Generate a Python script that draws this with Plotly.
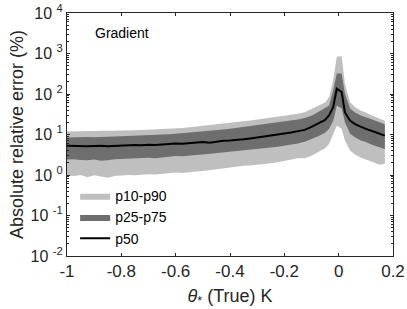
import plotly.graph_objects as go

theta = [-1.000, -0.975, -0.950, -0.925, -0.900, -0.875, -0.850, -0.825, -0.800, -0.775,
         -0.750, -0.725, -0.700, -0.675, -0.650, -0.625, -0.600, -0.575, -0.550, -0.525,
         -0.500, -0.475, -0.450, -0.425, -0.400, -0.375, -0.350, -0.325, -0.300, -0.275,
         -0.250, -0.225, -0.200, -0.175, -0.150, -0.125, -0.100, -0.075, -0.050, -0.035,
         -0.020, -0.007, 0.011, 0.023, 0.042, 0.060, 0.080, 0.100, 0.125, 0.150, 0.170]

p90 = [11.8, 12.0, 12.1, 11.9, 12.2, 12.3, 12.1, 12.4, 12.6, 12.5,
       12.8, 12.9, 13.1, 13.0, 13.4, 13.6, 13.9, 14.4, 15.0, 15.6,
       16.3, 17.0, 17.7, 18.5, 19.3, 20.3, 21.3, 22.3, 23.4, 24.6,
       25.8, 27.2, 29.0, 30.5, 32.5, 35.5, 42.0, 51.0, 62.0, 84.0,
       220, 830, 850, 180, 63, 48, 39, 35, 29, 24.5, 22]

p75 = [8.4, 8.6, 8.5, 8.7, 8.6, 8.8, 8.7, 8.9, 9.0, 9.1,
       9.2, 9.4, 9.5, 9.6, 9.9, 10.1, 10.4, 10.7, 11.0, 11.4,
       11.8, 12.2, 12.7, 13.2, 13.8, 14.5, 15.2, 16.0, 16.8, 17.7,
       18.6, 19.6, 20.7, 22.0, 23.5, 25.5, 29.0, 36.0, 44.0, 52.0,
       123, 320, 320, 102, 44, 35, 30, 27, 23, 20, 18]

p50 = [5.3, 5.2, 5.3, 5.1, 5.2, 5.3, 5.1, 5.2, 5.4, 5.3,
       5.5, 5.4, 5.6, 5.5, 5.7, 5.8, 6.0, 5.9, 6.1, 6.2,
       6.5, 6.3, 6.7, 7.0, 7.1, 7.5, 7.6, 8.0, 8.4, 8.8,
       9.3, 9.8, 10.6, 11.2, 12.0, 13.0, 15.5, 19.0, 23.0, 30.0,
       48, 135, 112, 35, 22, 18, 15.5, 13.8, 12.0, 10.5, 9.4]

p25 = [2.4, 2.45, 2.35, 2.3, 2.4, 2.25, 2.3, 2.45, 2.5, 2.55,
       2.5, 2.6, 2.65, 2.6, 2.7, 2.8, 2.95, 2.9, 3.0, 3.1,
       3.2, 3.3, 3.35, 3.5, 3.7, 3.9, 4.05, 4.25, 4.4, 4.6,
       4.8, 5.0, 5.2, 5.6, 6.0, 6.6, 7.6, 9.0, 11.0, 13.8,
       22, 52, 44, 20, 10.5, 8.5, 7.2, 6.5, 5.5, 4.8, 4.4]

p10 = [0.97, 0.95, 1.0, 0.88, 0.98, 0.93, 0.85, 0.95, 0.97, 1.0,
       0.98, 1.02, 1.05, 1.03, 1.08, 1.1, 1.15, 1.12, 1.18, 1.22,
       1.25, 1.3, 1.35, 1.45, 1.55, 1.6, 1.68, 1.72, 1.8, 1.85,
       1.95, 2.05, 2.2, 2.4, 2.6, 2.6, 3.0, 3.8, 4.6, 5.9,
       10.5, 16.6, 13.8, 7.1, 4.0, 3.2, 2.7, 2.4, 2.1, 1.8, 1.9]

x_ticks = [-1, -0.8, -0.6, -0.4, -0.2, 0, 0.2]
x_ticklabels = ["-1", "-0.8", "-0.6", "-0.4", "-0.2", "0", "0.2"]
y_ticks = [1e-2, 1e-1, 1e0, 1e1, 1e2, 1e3, 1e4]
y_exponents = ["-2", "-1", "0", "1", "2", "3", "4"]
y_ticklabels = ["10\u00a0<sup>" + e + "</sup>" for e in y_exponents]
y_minor = [k * 10.0 ** e for e in range(-2, 4) for k in range(2, 10)]

LIGHT = "rgb(191,191,191)"
DARK = "rgb(110,110,110)"
AX = "rgb(38,38,38)"
FONT = "Liberation Sans, Arial, Helvetica, sans-serif"

fig = go.Figure()
fig.add_trace(go.Scatter(x=theta + theta[::-1], y=p90 + p10[::-1], fill="toself",
                         fillcolor=LIGHT, line=dict(width=0, color=LIGHT), mode="lines",
                         name="p10-p90", hoverinfo="skip"))
fig.add_trace(go.Scatter(x=theta + theta[::-1], y=p75 + p25[::-1], fill="toself",
                         fillcolor=DARK, line=dict(width=0, color=DARK), mode="lines",
                         name="p25-p75", hoverinfo="skip"))
fig.add_trace(go.Scatter(x=theta, y=p50, mode="lines", line=dict(color="black", width=2),
                         name="p50"))

fig.add_annotation(x=-0.905, y=3.5, xref="x", yref="y", text="Gradient", showarrow=False,
                   xanchor="left", yanchor="middle", font=dict(size=14, color="black", family=FONT))

fig.update_layout(
    width=407, height=309,
    margin=dict(l=67, r=14, t=13, b=53, autoexpand=False),
    paper_bgcolor="white", plot_bgcolor="white",
    font=dict(family=FONT, color=AX),
    showlegend=True,
    legend=dict(x=0.025, y=0.312, xanchor="left", yanchor="top", bgcolor="rgba(0,0,0,0)",
                font=dict(size=14, color="black", family=FONT), tracegroupgap=0,
                itemwidth=30),
    xaxis=dict(range=[-1, 0.2], tickvals=x_ticks, ticktext=x_ticklabels, automargin=False,
               showline=True, linecolor=AX, linewidth=1, mirror="ticks",
               ticks="inside", ticklen=3, tickcolor=AX, showgrid=False, zeroline=False,
               tickfont=dict(size=17, color=AX), ticklabeloverflow="allow",
               title=dict(text="<i>θ</i><sub>*</sub> (True) K", font=dict(size=18, color=AX), standoff=8)),
    yaxis=dict(type="log", range=[-2, 4], tickvals=y_ticks, ticktext=y_ticklabels, automargin=False,
               showline=True, linecolor=AX, linewidth=1, mirror="ticks",
               ticks="inside", ticklen=3, tickcolor=AX, showgrid=False, zeroline=False,
               tickfont=dict(size=16, color=AX), ticklabeloverflow="allow",
               minor=dict(tickvals=y_minor, ticks="inside", ticklen=2, tickcolor=AX, showgrid=False),
               title=dict(text="Absolute relative error (%)", font=dict(size=18, color=AX), standoff=2)),
)

fig.write_html("out.html", config={"displayModeBar": False},
               post_script="document.body.style.margin='0px';document.body.style.overflow='hidden';")
